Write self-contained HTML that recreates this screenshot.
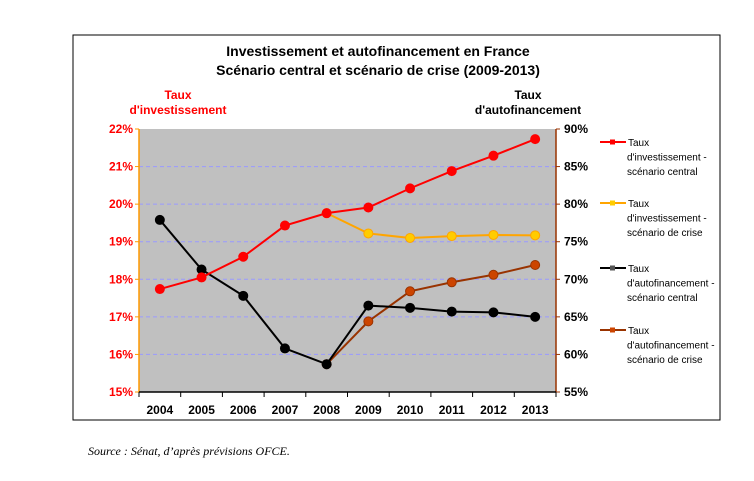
<!DOCTYPE html>
<html><head><meta charset="utf-8"><style>
body{margin:0;background:#fff;width:754px;height:481px;overflow:hidden;font-family:"Liberation Sans",Arial,sans-serif}
svg{position:absolute;left:0;top:0}
</style></head><body>
<svg width="754" height="481" id="chart">
<rect x="73" y="35" width="647" height="385" fill="#fff" stroke="#000" stroke-width="1"/>
<text x="378" y="56" text-anchor="middle" font-size="14" font-weight="bold">Investissement et autofinancement en France</text>
<text x="378" y="75" text-anchor="middle" font-size="14" font-weight="bold">Scénario central et scénario de crise (2009-2013)</text>
<text x="178" y="99" text-anchor="middle" font-size="12" font-weight="bold" fill="#ff0000">Taux</text>
<text x="178" y="114" text-anchor="middle" font-size="12" font-weight="bold" fill="#ff0000">d'investissement</text>
<text x="528" y="99" text-anchor="middle" font-size="12" font-weight="bold">Taux</text>
<text x="528" y="114" text-anchor="middle" font-size="12" font-weight="bold">d'autofinancement</text>
<rect x="139" y="129" width="417" height="263" fill="#c0c0c0"/>
<g id="grid"></g><g id="axes"></g><g id="series"></g><g id="legend"></g>
<text x="88" y="455" font-family="Liberation Serif,serif" font-style="italic" font-size="12">Source : Sénat,  d’après prévisions OFCE.</text>
</svg>
<script>
const years=["2004","2005","2006","2007","2008","2009","2010","2011","2012","2013"];
const leftTicks=[15,16,17,18,19,20,21,22];
const rightTicks=[55,60,65,70,75,80,85,90];
const invCentral=[17.74,18.05,18.6,19.43,19.76,19.91,20.42,20.88,21.29,21.73];
const invCrise=[null,null,null,null,19.76,19.22,19.1,19.15,19.18,19.17];
const autoCentral=[77.9,71.3,67.8,60.8,58.7,66.5,66.2,65.7,65.6,65.0];
const autoCrise=[null,null,null,null,58.7,64.4,68.4,69.6,70.6,71.9];
const NS="http://www.w3.org/2000/svg";
const X0=139,X1=556,Y0=129,Y1=392;
const xS=i=>X0+(i+0.5)*(X1-X0)/years.length;
const yL=v=>Y1-(v-15)/7*(Y1-Y0);
const yR=v=>Y1-(v-55)/35*(Y1-Y0);
function mk(tag,attrs,parent){const e=document.createElementNS(NS,tag);for(const k in attrs)e.setAttribute(k,attrs[k]);document.getElementById(parent).appendChild(e);return e;}
leftTicks.forEach((t,i)=>{
  const y=yL(t);
  if(i>0&&i<leftTicks.length-1){const g=mk('line',{x1:X0,x2:X1,y1:y,y2:y,stroke:'#9999ff','stroke-dasharray':'4,3','stroke-width':1},'grid');
  
  }
  const tx=mk('text',{x:X0-6,y:y+4,'text-anchor':'end','font-size':12,'font-weight':'bold',fill:'#ff0000'},'axes');tx.textContent=t+'%';
  
  
  mk('line',{x1:X0-4,x2:X0,y1:y,y2:y,stroke:'#ff9900'},'axes');
});
rightTicks.forEach(t=>{
  const y=yR(t);
  const tx=mk('text',{x:X1+8,y:y+4,'font-size':12,'font-weight':'bold'},'axes');tx.textContent=t+'%';
  
  
  mk('line',{x1:X1,x2:X1+4,y1:y,y2:y,stroke:'#993300'},'axes');
});
mk('line',{x1:X0,x2:X0,y1:Y0,y2:Y1,stroke:'#ff9900','stroke-width':1.5},'axes');
mk('line',{x1:X1,x2:X1,y1:Y0,y2:Y1,stroke:'#993300','stroke-width':1.5},'axes');
mk('line',{x1:X0,x2:X1,y1:Y1,y2:Y1,stroke:'#000','stroke-width':1.5},'axes');
years.forEach((yr,i)=>{
  const bx=X0+i*(X1-X0)/years.length;
  mk('line',{x1:bx,x2:bx,y1:Y1,y2:Y1+5,stroke:'#000'},'axes');
  const tx=mk('text',{x:xS(i),y:Y1+22,'text-anchor':'middle','font-size':12,'font-weight':'bold'},'axes');tx.textContent=yr;
  
  
});
mk('line',{x1:X1,x2:X1,y1:Y1,y2:Y1+5,stroke:'#000'},'axes');
function series(vals,ys,color,fill,name){
  const pts=[];vals.forEach((v,i)=>{if(v!==null)pts.push([xS(i),ys(v)]);});
  const p=mk('polyline',{points:pts.map(p=>p.join(',')).join(' '),fill:'none',stroke:color,'stroke-width':2},'series');
  
  
  pts.forEach(pt=>{const c=mk('circle',{cx:pt[0],cy:pt[1],r:4.5,fill:fill,stroke:color,'stroke-width':1},'series');
  
  });
}
series(invCrise,yL,'#ffa500','#ffcc00','inv-crise');
series(autoCrise,yR,'#993300','#cc4400','auto-crise');
series(autoCentral,yR,'#000','#000','auto-central');
series(invCentral,yL,'#ff0000','#ff0000','inv-central');
const legItems=[["#ff0000","#ff0000",["Taux","d'investissement -","scénario central"],142],["#ffa500","#ffcc00",["Taux","d'investissement -","scénario de crise"],203],["#000","#555",["Taux","d'autofinancement -","scénario central"],268],["#993300","#cc4400",["Taux","d'autofinancement -","scénario de crise"],330]];
legItems.forEach(it=>{
  const y=it[3];
  const l=mk('line',{x1:600,x2:626,y1:y,y2:y,stroke:it[0],'stroke-width':2},'legend');
  
  
  mk('rect',{x:610,y:y-2.5,width:5,height:5,fill:it[1]},'legend');
  it[2].forEach((s,j)=>{const t=mk('text',{x:j?627:628,y:y+4+j*14.5,'font-size':10},'legend');t.textContent=s;
  
  });
});
</script>
</body></html>
